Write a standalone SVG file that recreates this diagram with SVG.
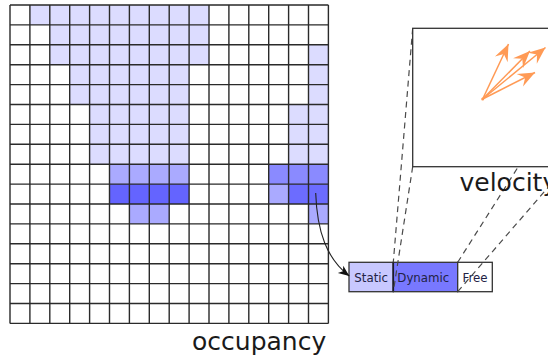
<svg xmlns="http://www.w3.org/2000/svg" width="548" height="356" viewBox="0 0 548 356">
<style>
.grid{fill:none;stroke:#2a2a2a;stroke-width:1.4}
.l{fill:#dcdcff}
.m{fill:#aaaaff}
.md{fill:#8a8aff}
.d{fill:#6464ff}
.box{stroke:#333;stroke-width:1.3}
.dash{fill:none;stroke:#4a4a4a;stroke-width:1.2;stroke-dasharray:6,4.5}
.lbl{font-family:"DejaVu Sans",sans-serif;font-size:25px;fill:#1a1a1a}
.cl{font-family:"DejaVu Sans",sans-serif;font-size:11.8px;fill:#222244}
.vel{fill:none;stroke:#ff9a55;stroke-width:1.5}
</style>
<defs>
<marker id="blk" markerUnits="userSpaceOnUse" markerWidth="14" markerHeight="12" viewBox="-12 -6 14 12" refX="0" refY="0" orient="auto">
<path d="M0,0 L-11,-4.5 L-8,0 L-11,4.5 z" fill="#111"/>
</marker>
<marker id="org" markerUnits="userSpaceOnUse" markerWidth="20" markerHeight="16" viewBox="-18 -8 20 16" refX="0" refY="0" orient="auto">
<path d="M0,0 L-17,-7 L-11,0 L-17,7 z" fill="#ff9a55"/>
</marker>
</defs>
<rect width="548" height="356" fill="#fff"/>
<g id="occupancy">
<rect class="l" x="29.9" y="5" width="179.1" height="19.9"/>
<rect class="l" x="49.8" y="24.9" width="159.2" height="39.8"/>
<rect class="l" x="69.7" y="64.7" width="119.4" height="39.8"/>
<rect class="l" x="89.6" y="104.5" width="99.5" height="59.7"/>
<rect class="l" x="308.5" y="44.8" width="19.9" height="119.4"/>
<rect class="l" x="288.6" y="104.5" width="19.9" height="59.7"/>
<rect class="m" x="109.5" y="164.2" width="79.6" height="19.9"/>
<rect class="md" x="268.7" y="164.2" width="59.7" height="19.9"/>
<rect class="d" x="109.5" y="184.1" width="79.6" height="19.9"/>
<rect class="m" x="268.7" y="184.1" width="19.9" height="19.9"/>
<rect class="d" x="288.6" y="184.1" width="39.8" height="19.9" style="fill:#6c6cff"/>
<rect class="m" x="129.4" y="204" width="39.8" height="19.9"/>
<rect class="m" x="308.5" y="204" width="19.9" height="19.9"/>
<path class="grid" d="M10,5V323.4M29.9,5V323.4M49.8,5V323.4M69.7,5V323.4M89.6,5V323.4M109.5,5V323.4M129.4,5V323.4M149.3,5V323.4M169.2,5V323.4M189.1,5V323.4M209,5V323.4M228.9,5V323.4M248.8,5V323.4M268.7,5V323.4M288.6,5V323.4M308.5,5V323.4M328.4,5V323.4M10,5H328.4M10,24.9H328.4M10,44.8H328.4M10,64.7H328.4M10,84.6H328.4M10,104.5H328.4M10,124.4H328.4M10,144.3H328.4M10,164.2H328.4M10,184.1H328.4M10,204H328.4M10,223.9H328.4M10,243.8H328.4M10,263.7H328.4M10,283.6H328.4M10,303.5H328.4M10,323.4H328.4"/>
<text class="lbl" x="192" y="349.5">occupancy</text>
</g>
<g id="cell">
<rect class="box" x="349" y="262.3" width="44.3" height="29.4" fill="#c8c8ff"/>
<rect class="box" x="393.3" y="262.3" width="64.4" height="29.4" fill="#7878ff"/>
<rect class="box" x="457.7" y="262.3" width="34.6" height="29.4" fill="#fff"/>
<line x1="393.3" y1="262.3" x2="393.3" y2="291.7" stroke="#1a1a2a" stroke-width="1.6"/>
<text class="cl" x="354.3" y="281.5">Static</text>
<text class="cl" x="397.3" y="281.5">Dynamic</text>
<text class="cl" x="462.5" y="281.5">Free</text>
</g>
<g id="connectors">
<path class="dash" d="M412.7,28.3 L393.3,262.3"/>
<path class="dash" d="M412.7,166.7 L393.3,291.7"/>
<path class="dash" d="M457.7,262.3 L606,28.3"/>
<path class="dash" d="M457.7,291.7 L566,166.7"/>
<path d="M315.7,193 C317,232 327,259 349.3,276" fill="none" stroke="#222" stroke-width="1.1" marker-end="url(#blk)"/>
</g>
<g id="velocity">
<rect class="box" x="412.7" y="28.3" width="220" height="138.4" fill="#fff"/>
<line class="vel" x1="482.7" y1="99" x2="508.5" y2="44" marker-end="url(#org)"/>
<line class="vel" x1="482.7" y1="99" x2="530" y2="51" marker-end="url(#org)"/>
<line class="vel" x1="482.7" y1="99" x2="545.5" y2="47.5" marker-end="url(#org)"/>
<line class="vel" x1="482.7" y1="99" x2="535" y2="72.5" marker-end="url(#org)"/>
<circle cx="482.7" cy="99" r="1.5" fill="#ff9a55"/>
<text class="lbl" x="459.5" y="190.5">velocity</text>
</g>
</svg>
